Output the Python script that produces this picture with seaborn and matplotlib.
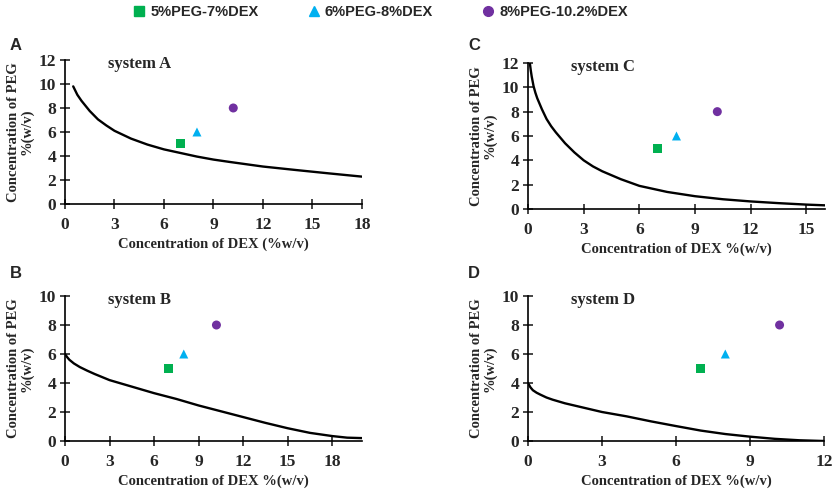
import numpy as np
import pandas as pd
import matplotlib
matplotlib.use("Agg")
import matplotlib.pyplot as plt
import seaborn as sns

# Binodal curves (x = DEX %, y = PEG %)
a_x = [0.5, 0.75, 1, 1.5, 2, 2.5, 3, 4, 5, 6, 7, 8, 9, 10, 12, 14, 16, 18]
a_y = [9.8, 9.1, 8.6, 7.75, 7.05, 6.55, 6.1, 5.45, 4.95, 4.55, 4.25, 3.95, 3.7, 3.5, 3.12, 2.83, 2.55, 2.28]

b_x = [0, 0.15, 0.3, 0.6, 1, 1.5, 2, 3, 4.5, 6, 7.5, 9, 10.5, 12, 13.5, 15, 16.5, 18, 19, 20]
b_y = [6.0, 5.78, 5.6, 5.35, 5.1, 4.85, 4.62, 4.2, 3.75, 3.3, 2.9, 2.45, 2.05, 1.65, 1.25, 0.88, 0.56, 0.34, 0.23, 0.2]

c_x = [0.1, 0.15, 0.2, 0.3, 0.4, 0.5, 0.75, 1, 1.25, 1.5, 2, 2.5, 3, 3.5, 4, 5, 6, 7.5, 9, 10.5, 12, 13.5, 15, 16]
c_y = [12.0, 11.4, 10.9, 10.1, 9.55, 9.1, 8.2, 7.4, 6.8, 6.3, 5.4, 4.65, 4.0, 3.5, 3.1, 2.45, 1.9, 1.4, 1.05, 0.8, 0.62, 0.48, 0.36, 0.3]

d_x = [0, 0.1, 0.2, 0.35, 0.5, 0.75, 1, 1.5, 2, 3, 4, 5, 6, 7, 8, 9, 10, 11, 12]
d_y = [4.0, 3.7, 3.5, 3.33, 3.2, 3.0, 2.85, 2.6, 2.4, 2.0, 1.7, 1.35, 1.03, 0.72, 0.48, 0.3, 0.15, 0.05, 0.0]

# Operating points (same in every panel)
point_names = ["5%PEG-7%DEX", "6%PEG-8%DEX", "8%PEG-10.2%DEX"]
point_dex = [7, 8, 10.2]
point_peg = [5, 6, 8]
point_colors = ["#00B050", "#00B0F0", "#7030A0"]
point_markers = ["s", "^", "o"]

panels = [
    ("A", "system A", a_x, a_y, (0, 18), range(0, 19, 3), (0, 12), range(0, 13, 2),
     "Concentration of DEX (%w/v)", [0.0778, 0.5837, 0.3557, 0.2939], (16, 45)),
    ("B", "system B", b_x, b_y, (0, 20), range(0, 19, 3), (0, 10), range(0, 11, 2),
     "Concentration of DEX %(w/v)", [0.0778, 0.100, 0.3557, 0.2959], (16, 273)),
    ("C", "system C", c_x, c_y, (0, 16), range(0, 16, 3), (0, 12), range(0, 13, 2),
     "Concentration of DEX %(w/v)", [0.6323, 0.5735, 0.3557, 0.2980], (474, 45)),
    ("D", "system D", d_x, d_y, (0, 12), range(0, 13, 3), (0, 10), range(0, 11, 2),
     "Concentration of DEX %(w/v)", [0.6323, 0.100, 0.3545, 0.2959], (474, 273)),
]

sns.set_style("ticks")
plt.rcParams["font.family"] = ["Liberation Serif", "DejaVu Serif"]
plt.rcParams["font.weight"] = "bold"

points = pd.DataFrame({"name": point_names, "DEX": point_dex, "PEG": point_peg})
palette = dict(zip(point_names, point_colors))
markers = dict(zip(point_names, point_markers))

fig = plt.figure(figsize=(8.35, 4.9), dpi=100)

for letter, title, cx, cy, xlim, xticks, ylim, yticks, xlabel, rect, lpos in panels:
    ax = fig.add_axes(rect)
    curve = pd.DataFrame({"DEX": cx, "PEG": cy})
    sns.lineplot(data=curve, x="DEX", y="PEG", color="black", linewidth=1.7,
                 sort=False, estimator=None, ax=ax)
    sns.scatterplot(data=points, x="DEX", y="PEG", hue="name", style="name",
                    palette=palette, markers=markers, s=42, edgecolor="none",
                    legend=False, ax=ax, zorder=3)
    ax.set_xlim(*xlim)
    ax.set_ylim(*ylim)
    ax.set_xticks(list(xticks))
    ax.set_yticks(list(yticks))
    ax.set_xlabel(xlabel, fontsize=10.5, fontweight="bold", labelpad=3.5)
    ax.set_ylabel("Concentration of PEG\n%(w/v)", fontsize=10.5, fontweight="bold",
                  linespacing=1.0, labelpad=4)
    ax.tick_params(direction="inout", length=6.5, width=1.2, labelsize=12.5, pad=3)
    ax.tick_params(axis="x", pad=6)
    for lab in ax.get_xticklabels() + ax.get_yticklabels():
        lab.set_fontweight("bold")
    for side in ["left", "bottom"]:
        ax.spines[side].set_linewidth(1.2)
        ax.spines[side].set_color("black")
    sns.despine(ax=ax)
    ax.text(0.145, 0.97, title, transform=ax.transAxes, fontsize=12,
            fontweight="bold", va="center", ha="left")
    fig.text(lpos[0] / 835, 1 - lpos[1] / 490, letter, fontsize=12,
             fontweight="bold", family=["Liberation Sans", "DejaVu Sans"],
             ha="center", va="center")

# Legend across the top
handles = [plt.Line2D([], [], linestyle="none", marker=m, color=c, markersize=7)
           for m, c in zip(point_markers, point_colors)]
fig.legend(handles, point_names, loc="center", bbox_to_anchor=(0.455, 0.975),
           ncol=3, frameon=False, handlelength=1.0, handletextpad=0.25,
           columnspacing=3.3,
           prop={"family": ["Liberation Sans", "DejaVu Sans"], "weight": "bold", "size": 10.5})

fig.savefig("out.png", dpi=100, facecolor="white")
